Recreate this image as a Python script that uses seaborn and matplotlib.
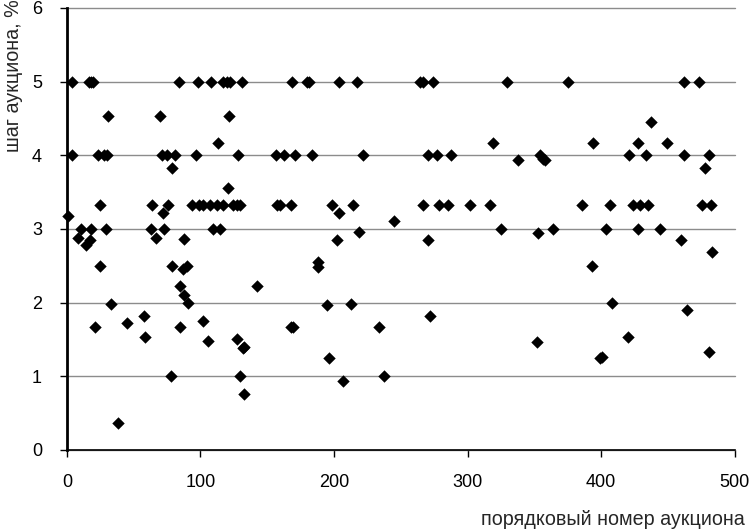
import matplotlib
matplotlib.use("Agg")
import matplotlib.pyplot as plt
import seaborn as sns
import pandas as pd

# номер аукциона / шаг аукциона, %
auction_no = [
    # шаг 5 %
    3.7, 16.5, 18, 19.5, 84, 98, 108, 117, 119.5, 122, 131, 168.4, 179.6, 181,
    204, 217, 264, 266.5, 274, 329.3, 375, 461.8, 473,
    # около 4,5 %
    31, 70, 121, 437,
    # около 4,17 %
    113, 319, 393.7, 427.4, 449,
    # шаг 4 %
    4, 23, 28, 30, 71, 75, 81, 97, 128, 156.4, 162.4, 170.7, 183.4, 222,
    270.5, 277, 287.4, 354, 420.7, 433.4, 461.8, 480.5,
    # 3,5 - 3,9 %
    79, 120.5, 338, 356.3, 357.8, 477.5,
    # шаг 3,33 %
    25, 64, 76, 94, 99, 102, 107, 112, 117, 124, 127, 129.5, 157, 159.4, 167.7,
    198.4, 214, 266.5, 278.5, 285, 302, 316.6, 385.5, 406.4, 423.7, 429, 435,
    475.3, 482,
    # около 3 %
    0.8, 72, 203.6, 244.8,
    10.5, 18, 29, 63, 73, 109, 114.5, 218.6, 325, 352.5, 363.8, 403.4, 427.4,
    443.9,
    8, 17, 14, 67, 88, 202, 270, 459.6, 482.8,
    # 2 - 2,6 %
    24.7, 78.6, 87, 90, 85, 87.6, 91, 142, 188, 188, 33, 194.6, 212.6, 393,
    408, 464,
    # ниже 2 %
    21, 45, 57.6, 58.4, 85, 102, 105.5, 127, 132, 167.5, 169, 233.5, 271.7,
    351.8, 420, 481, 132.5, 196, 399, 401,
    78, 129.5, 206.6, 237.3, 132.5, 38,
]
step_pct = [
    5, 5, 5, 5, 5, 5, 5, 5, 5, 5, 5, 5, 5, 5,
    5, 5, 5, 5, 5, 5, 5, 5, 5,
    4.53, 4.53, 4.53, 4.45,
    4.17, 4.17, 4.17, 4.17, 4.17,
    4, 4, 4, 4, 4, 4, 4, 4, 4, 4, 4, 4, 4, 4,
    4, 4, 4, 4, 4, 4, 4, 4,
    3.83, 3.56, 3.94, 3.95, 3.93, 3.83,
    3.33, 3.33, 3.33, 3.33, 3.33, 3.33, 3.33, 3.33, 3.33, 3.33, 3.33, 3.33, 3.33, 3.33, 3.33,
    3.33, 3.33, 3.33, 3.33, 3.33, 3.33, 3.33, 3.33, 3.33, 3.33, 3.33, 3.33,
    3.33, 3.33,
    3.18, 3.22, 3.22, 3.11,
    3.0, 3.0, 3.0, 3.0, 3.0, 3.0, 3.0, 2.96, 3.0, 2.95, 3.0, 3.0, 3.0,
    3.0,
    2.88, 2.85, 2.78, 2.88, 2.86, 2.85, 2.85, 2.85, 2.69,
    2.5, 2.5, 2.45, 2.5, 2.22, 2.1, 2.0, 2.22, 2.55, 2.48, 1.98, 1.97, 1.98, 2.5,
    1.99, 1.9,
    1.67, 1.73, 1.82, 1.53, 1.67, 1.75, 1.48, 1.51, 1.39, 1.67, 1.67, 1.67, 1.82,
    1.46, 1.54, 1.33, 1.4, 1.25, 1.25, 1.26,
    1.0, 1.0, 0.94, 1.0, 0.76, 0.36,
]

df = pd.DataFrame({"n": auction_no, "step": step_pct})

sns.set_style("white")
plt.rcParams["font.family"] = ["Liberation Sans", "DejaVu Sans"]

fig = plt.figure(figsize=(7.52, 5.30), dpi=100)
ax = fig.add_axes([0.089, 0.151, 0.888, 0.834])

sns.scatterplot(data=df, x="n", y="step", marker="D", s=40, color="black",
                edgecolor="black", linewidth=0, ax=ax, clip_on=False, zorder=3)

ax.set_xlim(0, 500)
ax.set_ylim(0, 6)
ax.set_xticks(range(0, 501, 100))
ax.set_yticks(range(0, 7))
ax.yaxis.grid(True, color="#8c8c8c", linewidth=1, clip_on=False)
ax.set_axisbelow(True)

for side in ["top", "right"]:
    ax.spines[side].set_visible(False)
ax.spines["left"].set_linewidth(2)
ax.spines["bottom"].set_linewidth(1.2)
ax.spines["left"].set_color("black")
ax.spines["bottom"].set_color("black")
ax.tick_params(axis="both", direction="out", length=5, width=1, colors="black",
               labelsize=13, left=True, bottom=True)
ax.tick_params(axis="x", pad=12)
ax.tick_params(axis="y", pad=13)

ax.set_xlabel("порядковый номер аукциона", fontsize=14.2)
ax.xaxis.set_label_coords(1.015, -0.135)
ax.xaxis.label.set_horizontalalignment("right")
ax.set_ylabel("шаг аукциона, %", fontsize=14.2)
ax.yaxis.set_label_coords(-0.08, 1.02)
ax.yaxis.label.set_verticalalignment("center")
ax.yaxis.label.set_horizontalalignment("right")

fig.savefig("out.png", dpi=100)
